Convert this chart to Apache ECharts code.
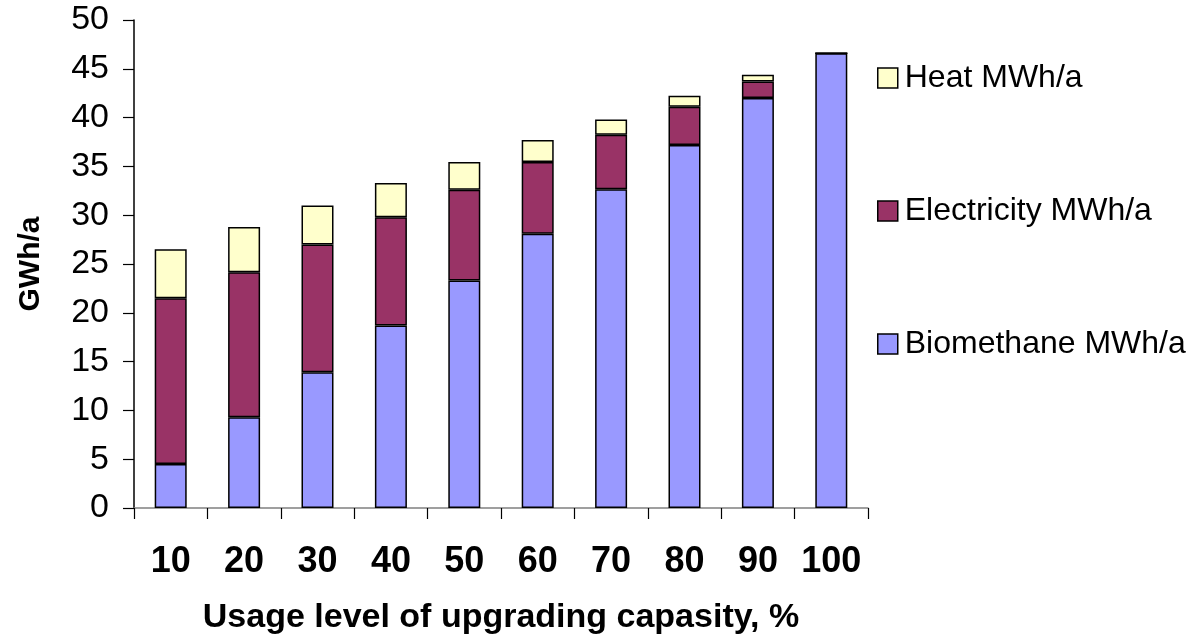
<!DOCTYPE html>
<html>
<head>
<meta charset="utf-8">
<title>Energy output by upgrading capacity usage</title>
<script src="https://cdn.jsdelivr.net/npm/echarts@6/dist/echarts.min.js"></script>
<style>
  html, body { margin: 0; padding: 0; background: #fff; }
  #chart { width: 1197px; height: 642px; }
</style>
</head>
<body>
<div id="chart"></div>
<script>
// Usage level of upgrading capacity, %
const categories = ['10', '20', '30', '40', '50', '60', '70', '80', '90', '100'];

// Energy output per usage level, GWh/a (stacked)
const biomethane  = [4.5, 9.3, 13.9, 18.7, 23.3, 28.1, 32.65, 37.2, 42.0, 46.6];
const electricity = [17.0, 14.85, 13.1, 11.1, 9.3, 7.35, 5.6, 3.9, 1.7, 0];
const heat        = [5.0, 4.65, 4.0, 3.5, 2.85, 2.25, 1.55, 1.15, 0.7, 0];

// Value axis ticks
const yTicks = [0, 5, 10, 15, 20, 25, 30, 35, 40, 45, 50];

const seriesNames = ['Biomethane MWh/a', 'Electricity MWh/a', 'Heat MWh/a'];
const seriesColors = ['#9999FF', '#993366', '#FFFFCC'];
const seriesData = [biomethane, electricity, heat];

const chart = echarts.init(document.getElementById('chart'));

const sans = "'Liberation Sans', Arial, sans-serif";

chart.setOption({
  animation: false,
  backgroundColor: '#ffffff',
  grid: { left: 134, right: 329, top: 20, bottom: 134, containLabel: false, outerBoundsMode: 'none' },
  legend: {
    orient: 'vertical',
    left: 872,
    top: 57,
    itemWidth: 20,
    itemHeight: 20,
    itemGap: 101,
    icon: 'rect',
    data: [seriesNames[2], seriesNames[1], seriesNames[0]],
    itemStyle: { borderColor: '#000', borderWidth: 1.5 },
    textStyle: { fontFamily: sans, fontSize: 32, color: '#000', padding: [0, 0, 0, 2] }
  },
  xAxis: {
    type: 'category',
    data: categories,
    boundaryGap: true,
    name: 'Usage level of upgrading capasity, %',
    nameLocation: 'middle',
    nameGap: 93,
    nameTextStyle: { fontFamily: sans, fontWeight: 'bold', fontSize: 34, color: '#000' },
    axisLine: { lineStyle: { color: '#808080', width: 1.5 } },
    axisTick: { show: true, alignWithLabel: false, inside: false, length: 11, lineStyle: { color: '#000', width: 1.2 } },
    axisLabel: { interval: 0, margin: 36, fontFamily: sans, fontWeight: 'bold', fontSize: 36, color: '#000' },
    splitLine: { show: false }
  },
  yAxis: {
    type: 'value',
    min: yTicks[0],
    max: yTicks[yTicks.length - 1],
    interval: 5,
    name: 'GWh/a',
    nameLocation: 'middle',
    nameGap: 88,
    nameTextStyle: { fontFamily: sans, fontWeight: 'bold', fontSize: 30, color: '#000' },
    axisLine: { show: true, lineStyle: { color: '#000', width: 1.5 } },
    axisTick: { show: true, inside: false, length: 11, lineStyle: { color: '#000', width: 1.2 } },
    axisLabel: { margin: 25, fontFamily: sans, fontSize: 34, color: '#000' },
    splitLine: { show: false }
  },
  series: seriesNames.map((name, i) => ({
    name: name,
    type: 'bar',
    stack: 'total',
    barWidth: 32,
    data: seriesData[i],
    itemStyle: { color: seriesColors[i], borderColor: '#000', borderWidth: 1.5 }
  }))
});
</script>
</body>
</html>
